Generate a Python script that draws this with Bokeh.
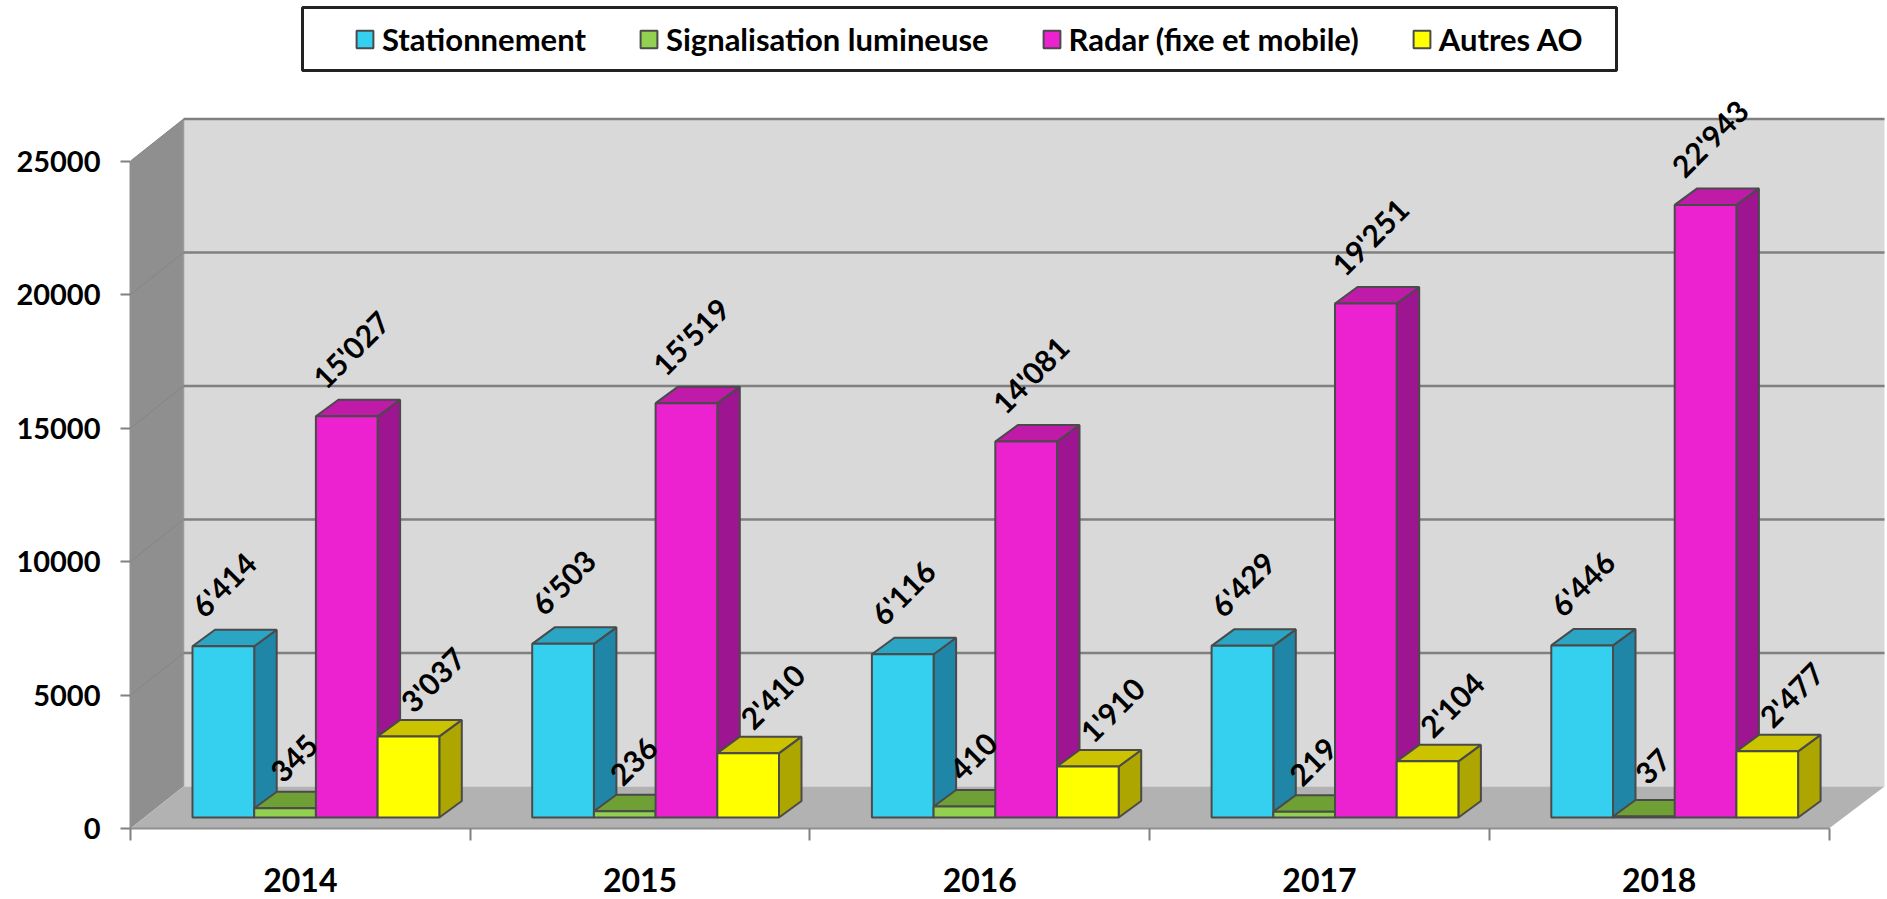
from bokeh.plotting import figure
from bokeh.models import Range1d, FixedTicker, Legend, LegendItem, ColumnDataSource
from bokeh.core.properties import value
from bokeh.embed import file_html
from bokeh.resources import INLINE
import math

years = ["2014", "2015", "2016", "2017", "2018"]
stationnement = [6414, 6503, 6116, 6429, 6446]
signalisation = [345, 236, 410, 219, 37]
radar = [15027, 15519, 14081, 19251, 22943]
autres = [3037, 2410, 1910, 2104, 2477]
y_ticks = [0, 5000, 10000, 15000, 20000, 25000]

series = [
    ("Stationnement", stationnement, "#35D0F0", "#1F86A8", "#2AA6C4", (0, -62)),
    ("Signalisation lumineuse", signalisation, "#92D050", "#6FA035", "#6FA035", (9, -50)),
    ("Radar (fixe et mobile)", radar, "#EC22D0", "#9D1590", "#BF1BA8", (4, -67)),
    ("Autres AO", autres, "#FFFF00", "#ADA500", "#CCC300", (24, -57)),
]

# Layout, in pixels of the frame
W, H = 1887, 899
LEFT, BOTTOM = 130, 71
FW, FH = W - LEFT, H - BOTTOM
GROUP_PX = 339.7
PX_PER_UNIT = 0.0267
xu = lambda px: px / GROUP_PX     # px -> x data
yu = lambda px: px / PX_PER_UNIT  # px -> y data

DX, DY = xu(53), yu(42)           # depth of the floor
BAR_DX, BAR_DY = xu(22.5), yu(16.5)
BAR_START, BAR_W = xu(62), xu(61.7)
BASE = yu(11)                     # front of bars sits above the axis line
TOP = y_ticks[-1]
n = len(years)
EDGE = "#4A4A4A"

p = figure(width=W, height=H, output_backend="svg", toolbar_location=None,
           x_range=Range1d(0, FW / GROUP_PX), y_range=Range1d(0, FH / PX_PER_UNIT),
           min_border_left=LEFT, min_border_right=0, min_border_top=0, min_border_bottom=BOTTOM)
p.outline_line_color = None
p.grid.visible = False
p.background_fill_color = "white"
p.border_fill_color = "white"

# Walls and floor
wall_right = xu(1884 - LEFT)
p.patch([DX, wall_right, wall_right, DX], [DY, DY, DY + TOP, DY + TOP], fill_color="#D9D9D9", line_color=None)
p.patch([0, DX, DX, 0], [0, DY, DY + TOP, TOP], fill_color="#8F8F8F", line_color=None)
p.line([DX, DX], [DY, DY + TOP], line_color="#9A9A9A", line_width=1.5)
for t in y_ticks:
    if t > 0:
        p.line([DX, wall_right], [DY + t, DY + t], line_color="#808080", line_width=2.5)
        p.line([0, DX], [t, DY + t], line_color="#858585", line_width=1)
p.patch([0, DX, wall_right, n], [0, DY, DY, 0], fill_color="#B2B2B2", line_color=None)

# Bars
legend_items = []
for s, (name, vals, front, side, top, offs) in enumerate(series):
    rend = None
    xs, ys, labels = [], [], []
    for g, v in enumerate(vals):
        x0 = g + BAR_START + s * BAR_W
        x1 = x0 + BAR_W
        y0, y1 = BASE, BASE + v
        p.patch([x1, x1 + BAR_DX, x1 + BAR_DX, x1],
                [y0, y0 + BAR_DY, y1 + BAR_DY, y1],
                fill_color=side, line_color=EDGE, line_width=2)
        p.patch([x0, x0 + BAR_DX, x1 + BAR_DX, x1],
                [y1, y1 + BAR_DY, y1 + BAR_DY, y1],
                fill_color=top, line_color=EDGE, line_width=2)
        r = p.quad(left=x0, right=x1, bottom=y0, top=y1,
                   fill_color=front, line_color=EDGE, line_width=2)
        rend = rend or r
        xs.append((x0 + x1) / 2)
        ys.append(y1)
        labels.append(f"{v:,}".replace(",", "'"))
    series[s] = (name, vals, front, side, top, offs, xs, ys, labels)
    legend_items.append(LegendItem(label=name, renderers=[rend]))

# Data labels on top of every bar
for name, vals, front, side, top, offs, xs, ys, labels in series:
    src = ColumnDataSource(dict(x=xs, y=ys, text=labels))
    p.text("x", "y", text="text", source=src, angle=math.pi / 4,
           x_offset=offs[0], y_offset=offs[1], text_align="center", text_baseline="middle",
           text_font=value("Lato"), text_font_style="bold", text_font_size="30px", text_color="#000000")

# Axes
xax = p.xaxis[0]
xax.ticker = FixedTicker(ticks=[i + 0.5 for i in range(n)], minor_ticks=list(range(n + 1)))
xax.major_label_overrides = {i + 0.5: y for i, y in enumerate(years)}
xax.major_tick_out = 0
xax.major_tick_in = 0
xax.minor_tick_out = 12
xax.minor_tick_in = 0
xax.minor_tick_line_color = "#808080"
xax.minor_tick_line_width = 2
xax.axis_line_color = "#909090"
xax.axis_line_width = 2
xax.bounds = (0, n)
xax.major_label_standoff = 27
xax.major_label_text_font = "Lato"
xax.major_label_text_font_style = "bold"
xax.major_label_text_font_size = "32px"
xax.major_label_text_color = "#000000"

yax = p.yaxis[0]
yax.ticker = FixedTicker(ticks=y_ticks)
yax.minor_tick_out = 0
yax.minor_tick_in = 0
yax.major_tick_out = 10
yax.major_tick_in = 0
yax.major_tick_line_color = "#808080"
yax.major_tick_line_width = 2
yax.axis_line_color = "#909090"
yax.axis_line_width = 2
yax.bounds = (0, TOP)
yax.major_label_standoff = 20
yax.major_label_text_font = "Lato"
yax.major_label_text_font_style = "bold"
yax.major_label_text_font_size = "29px"
yax.major_label_text_color = "#000000"
yax.major_label_overrides = {t: str(t) for t in y_ticks}

# Legend frame
p.quad(left=xu(172), right=xu(1486), top=yu(FH - 7), bottom=yu(FH - 70),
       fill_color="white", line_color="#222222", line_width=3)
legend = Legend(items=legend_items, orientation="horizontal", location=(224, 770),
                glyph_width=21, glyph_height=22, label_standoff=7, spacing=52, padding=8, margin=0,
                border_line_color=None, background_fill_alpha=0,
                label_text_font="Lato", label_text_font_style="bold",
                label_text_font_size="31px", label_text_color="#000000",
                label_height=22)
p.add_layout(legend, "center")

open("out.html", "w").write(file_html(p, INLINE))
